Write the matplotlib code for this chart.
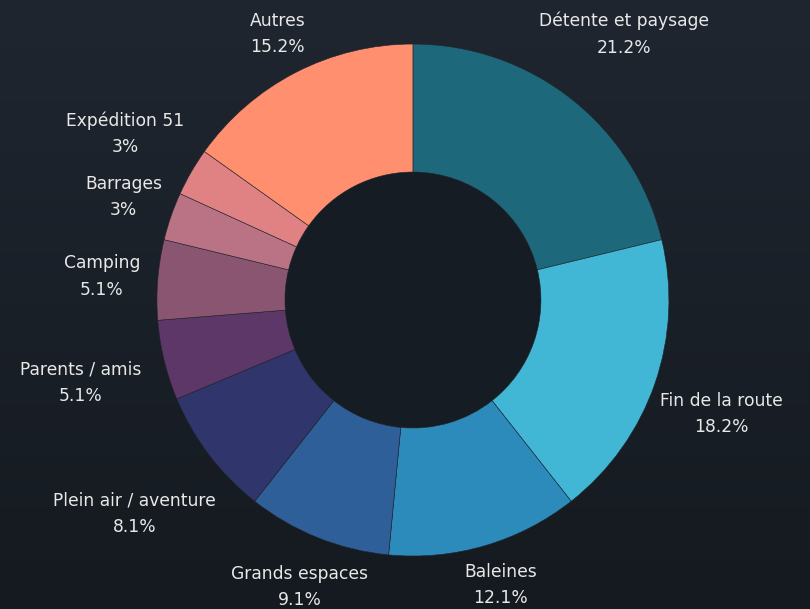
import numpy as np
import matplotlib.pyplot as plt
from matplotlib.colors import LinearSegmentedColormap

# counts per reason (out of 99 answers)
categories = ['Détente et paysage', 'Fin de la route', 'Baleines', 'Grands espaces',
              'Plein air / aventure', 'Parents / amis', 'Camping', 'Barrages',
              'Expédition 51', 'Autres']
counts = [21, 18, 12, 9, 8, 5, 5, 3, 3, 15]
colors = ['#1e687b', '#41b6d5', '#2c8bba', '#2e5f98', '#30356b',
          '#5d3767', '#8a5571', '#b97384', '#e08283', '#ff8f6f']

bg = '#1b2129'
plt.rcParams['font.family'] = ['DejaVu Sans']

fig = plt.figure(figsize=(8.1, 6.09), dpi=100, facecolor=bg)
ax = fig.add_axes([0, 0, 1, 1])
ax.set_facecolor(bg)

# soft background gradient, darker toward the bottom
grad = np.linspace(0, 1, 256).reshape(-1, 1)
bg_cmap = LinearSegmentedColormap.from_list('bg', ['#1f2630', '#151a20'])
ax.imshow(grad, extent=[-1.62, 1.56, -1.21, 1.18], cmap=bg_cmap,
          aspect='auto', zorder=0, origin='upper')

total = sum(counts)
wedges, _ = ax.pie(counts, colors=colors, startangle=90, counterclock=False,
                   radius=1, wedgeprops=dict(width=0.5, edgecolor='#20252c', linewidth=0.4))
for w in wedges:
    w.set_zorder(2)
ax.add_patch(plt.Circle((0, 0), 0.5, color='#161c23', zorder=1))

ax.set_xlim(-1.613, 1.551)
ax.set_ylim(-1.207, 1.172)
ax.axis('off')

# labels: anchor just outside the ring, box pushed outward by half its size
texts = []
for w, name, c in zip(wedges, categories, counts):
    ang = np.deg2rad((w.theta1 + w.theta2) / 2)
    pct = round(100 * c / total, 1)
    t = ax.text(0, 0, f'{name}\n{pct:g}%', ha='center', va='center',
                color='#e8e8e8', fontsize=12.3, linespacing=1.6, zorder=3)
    texts.append((t, ang))

# small pixel nudges so labels sit where the original layout put them
nudge_px = [(-11, -33), (-8, 17), (0, 1), (14, 12), (4, 34),
            (-7, 13), (0, 0), (6, -6), (1, -18), (3, -3)]

fig.canvas.draw()
r_anchor = 1.07
px_per_unit = 256.0
for (t, ang), (nx, ny) in zip(texts, nudge_px):
    bb = t.get_window_extent()
    dx = (bb.width / 2 * np.cos(ang) + nx) / px_per_unit
    dy = (bb.height / 2 * np.sin(ang) - ny) / px_per_unit
    t.set_position((r_anchor * np.cos(ang) + dx, r_anchor * np.sin(ang) + dy))

fig.savefig('out.png', dpi=100, facecolor=bg)
